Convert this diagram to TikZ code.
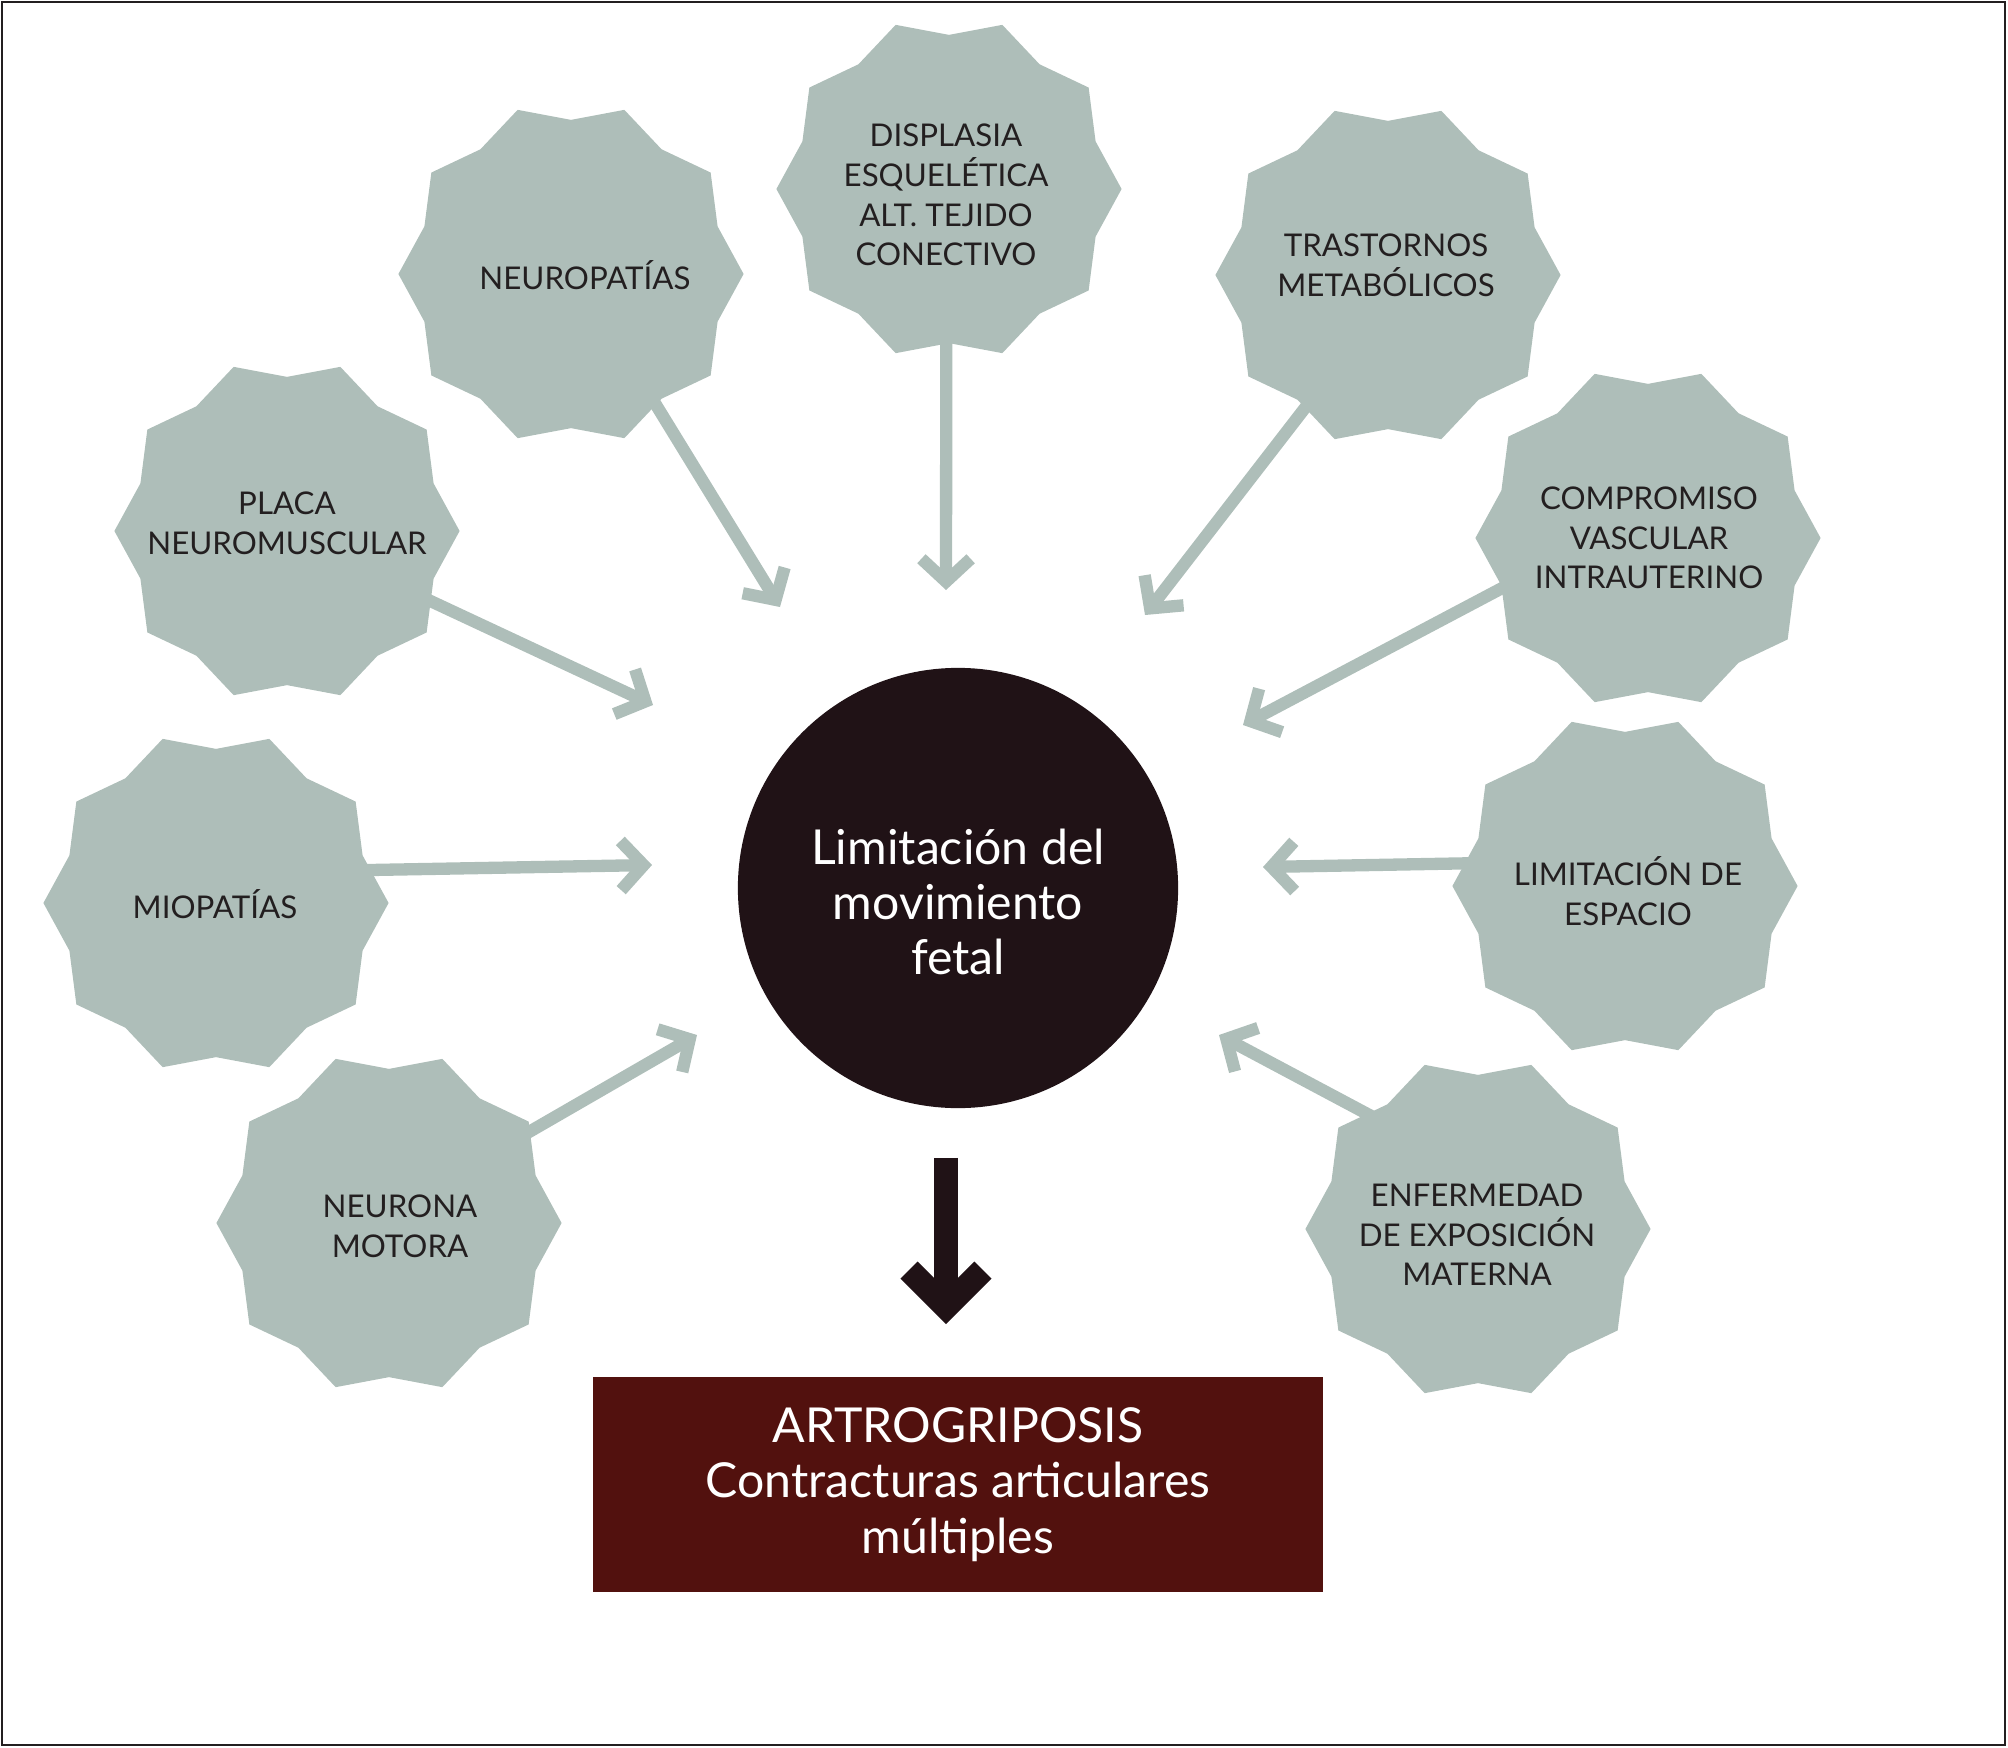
\documentclass[tikz,border=0pt]{standalone}
\usepackage{fontspec}
\setmainfont{Lato}
\usetikzlibrary{shapes.geometric,arrows.meta,backgrounds}
\definecolor{gcol}{RGB}{174,190,185}
\definecolor{ccol}{RGB}{32,18,22}
\definecolor{bcol}{RGB}{82,17,14}
\definecolor{tcol}{RGB}{35,31,32}
\begin{document}
\begin{tikzpicture}[x=0.01cm,y=-0.01cm,
  seal/.style={star, star points=10, star point ratio=1.12, shape border rotate=18,
    minimum size=3.45cm, inner sep=0pt, fill=gcol, draw=none},
  lbl/.style={align=center, text=tcol, font=\fontsize{8.9}{11.3}\selectfont, inner sep=0pt},
  garrow/.style={draw=gcol, line width=3.5pt,
    -{Straight Barb[length=6.5pt,width=14pt,line join=miter,line cap=butt]}, shorten <=-0.15cm},
  barrow/.style={draw=ccol, line width=6.9pt,
    -{Straight Barb[length=10.5pt,width=21pt,line join=miter,line cap=butt]}},
  bigtext/.style={align=center, text=white, font=\fontsize{13.7}{15.7}\selectfont},
]
\useasboundingbox (0,0) rectangle (2008,1748);
\draw[tcol, line width=0.6pt] (2,2) rectangle (2005,1745);

% seals
\node[seal] (s1) at (571,274) {};
\node[seal] (s2) at (949,189) {};
\node[seal] (s3) at (1388,275) {};
\node[seal] (s4) at (287,531) {};
\node[seal] (s5) at (1648,538) {};
\node[seal] (s6) at (216,903) {};
\node[seal] (s7) at (1625,886) {};
\node[seal] (s8) at (389,1223) {};
\node[seal] (s9) at (1478,1229) {};

% labels
\node[lbl] (l1) at (585,275) {NEUROPATÍAS};
\node[lbl] (l2) at (946,195) {DISPLASIA\\ESQUELÉTICA\\ALT. TEJIDO\\CONECTIVO};
\node[lbl] (l3) at (1386,265) {TRASTORNOS\\METABÓLICOS};
\node[lbl] (l4) at (287,523) {PLACA\\NEUROMUSCULAR};
\node[lbl] (l5) at (1649,538) {COMPROMISO\\VASCULAR\\INTRAUTERINO};
\node[lbl] (l6) at (215,904) {MIOPATÍAS};
\node[lbl] (l7) at (1628,891) {LIMITACIÓN DE\\ESPACIO};
\node[lbl] (l8) at (400,1226) {NEURONA\\MOTORA};
\node[lbl] (l9) at (1477,1235) {ENFERMEDAD\\DE EXPOSICIÓN\\MATERNA};

% centre
\node[circle, fill=ccol, minimum size=4.4cm, inner sep=0pt] (c) at (958,888) {};
\node[bigtext] (ct) at (958,902) {Limitación del\\movimiento\\fetal};

% result box
\node[bigtext, fill=bcol, minimum width=7.3cm, minimum height=2.15cm, inner sep=0pt] (box) at (958,1484.5)
  {ARTROGRIPOSIS\\Contracturas articulares\\múltiples};

% arrow tips
\coordinate (t1) at (780,607);
\coordinate (t2) at (946,590);
\coordinate (t3) at (1145,615);
\coordinate (t4) at (653,705);
\coordinate (t5) at (1243,725);
\coordinate (t6) at (652,865);
\coordinate (t7) at (1263,867);
\coordinate (t8) at (697,1035);
\coordinate (t9) at (1219,1035);

\begin{scope}[on background layer]
\draw[garrow] (s1.-57.6) -- (t1);
\draw[garrow] (s2.-91) -- (t2);
\draw[garrow] (s3.-122) -- (t3);
\draw[garrow] (s4.-26) -- (t4);
\draw[garrow] (s5.199) -- (t5);
\draw[garrow] (s6.12) -- (t6);
\draw[garrow] (s7.172) -- (t7);
\draw[garrow] (s8.33) -- (t8);
\draw[garrow] (s9.134) -- (t9);
\end{scope}

\draw[barrow, shorten <=0.49cm, shorten >=0.52cm] ([xshift=-0.12cm]c.south) -- ([xshift=-0.12cm]box.north);
\end{tikzpicture}
\end{document}
